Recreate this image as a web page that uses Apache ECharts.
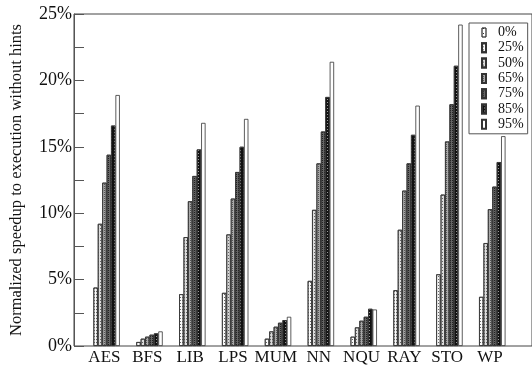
<!DOCTYPE html>
<html><head><meta charset="utf-8">
<script src="https://cdn.jsdelivr.net/npm/echarts@6/dist/echarts.min.js"></script>
<style>html,body{margin:0;padding:0;background:#fff}#c{width:532px;height:367px}</style>
</head><body><div id="c"></div>
<script>
const categories = ['AES','BFS','LIB','LPS','MUM','NN','NQU','RAY','STO','WP'];
const seriesNames = ['0%','25%','50%','65%','75%','85%','95%'];
const s0  = [0,0,0,0,0,0,0,0,0,0];
const s25 = [4.4, 0.3, 3.9, 4.0, 0.55, 4.9, 0.7, 4.2, 5.4, 3.7];
const s50 = [9.2, 0.55, 8.2, 8.4, 1.1, 10.25, 1.4, 8.75, 11.4, 7.75];
const s65 = [12.3, 0.7, 10.9, 11.1, 1.45, 13.75, 1.9, 11.7, 15.4, 10.3];
const s75 = [14.4, 0.85, 12.8, 13.1, 1.75, 16.15, 2.2, 13.75, 18.2, 12.0];
const s85 = [16.6, 0.95, 14.8, 15.0, 1.95, 18.75, 2.8, 15.9, 21.1, 13.85];
const s95 = [18.9, 1.1, 16.8, 17.1, 2.2, 21.4, 2.75, 18.1, 24.2, 15.8];
const yTicks = [0,5,10,15,20,25];
const seriesData = [s0,s25,s50,s65,s75,s85,s95];

const FONT = '"Liberation Serif", "Times New Roman", serif';
const styles = [
  {color:'#fff', decal:{symbol:'rect', symbolSize:1, dashArrayX:[1,3], dashArrayY:[1,4], color:'#333'}},
  {color:'#fafafa', decal:{symbol:'rect', symbolSize:1, dashArrayX:[1,1], dashArrayY:[1,2], color:'#666'}},
  {color:'#dcdcdc', decal:{symbol:'rect', symbolSize:1, dashArrayX:[1,1], dashArrayY:[1,2], color:'#666'}},
  {color:'#a8a8a8', decal:{symbol:'rect', symbolSize:1, dashArrayX:[1,1], dashArrayY:[1,1], color:'#555'}},
  {color:'#666', decal:{symbol:'rect', symbolSize:1, dashArrayX:[1,1], dashArrayY:[1,1], color:'#222'}},
  {color:'#111', decal:{symbol:'rect', symbolSize:1, dashArrayX:[1,2], dashArrayY:[1,2], color:'#999'}},
  {color:'#fff', decal:null}
];

const chart = echarts.init(document.getElementById('c'), null, {renderer:'canvas'});
chart.setOption({
  animation:false,
  backgroundColor:'#fff',
  grid:[
    {left:63, right:-2, top:14, bottom:21, show:true, borderColor:'#444', borderWidth:1, backgroundColor:'transparent'},
    {left:83, right:20.5, top:14, bottom:21}
  ],
  xAxis:[
    {gridIndex:0, type:'value', min:0, max:1, show:false},
    {gridIndex:1, type:'category', data:categories,
     axisLine:{show:false}, axisTick:{show:false},
     axisLabel:{fontFamily:FONT, fontSize:17, color:'#111', margin:3, interval:0}}
  ],
  yAxis:[
    {gridIndex:0, type:'value', min:0, max:25, interval:5,
     axisLine:{show:true, lineStyle:{color:'#555'}},
     axisTick:{show:true, inside:true, length:10, lineStyle:{color:'#555'}},
     minorTick:{show:true, splitNumber:2, length:10, lineStyle:{color:'#555'}},
     splitLine:{show:false},
     axisLabel:{fontFamily:FONT, fontSize:18, color:'#111', margin:2, formatter:v=>v+'%'},
     name:'Normalized speedup to execution without hints', nameLocation:'middle', nameGap:49, nameRotate:90,
     nameTextStyle:{fontFamily:FONT, fontSize:16.5, color:'#111'}},
    {gridIndex:1, type:'value', min:0, max:25, show:false}
  ],
  legend:{
    orient:'vertical', left:469, top:23, padding:[2,4,2,12],
    itemWidth:18, itemHeight:9, itemGap:0.3,
    icon:'path://M0,0h4v9h-4z',
    borderColor:'#555', borderWidth:1, backgroundColor:'#fff',
    textStyle:{fontFamily:FONT, fontSize:14, lineHeight:15, color:'#111'},
    data:seriesNames.map((n,i)=> i===0 ? {name:n, itemStyle:{borderColor:'#333', borderWidth:0.8}} : n)
  },
  series: seriesNames.map((n,i)=>({
    name:n, type:'bar', xAxisIndex:1, yAxisIndex:1,
    data:seriesData[i],
    barGap:'0%', barCategoryGap:'28%',
    itemStyle:{color:styles[i].color, borderColor:'#333', borderWidth: i===0 ? 0 : 0.8, decal:styles[i].decal}
  }))
});
</script></body></html>
